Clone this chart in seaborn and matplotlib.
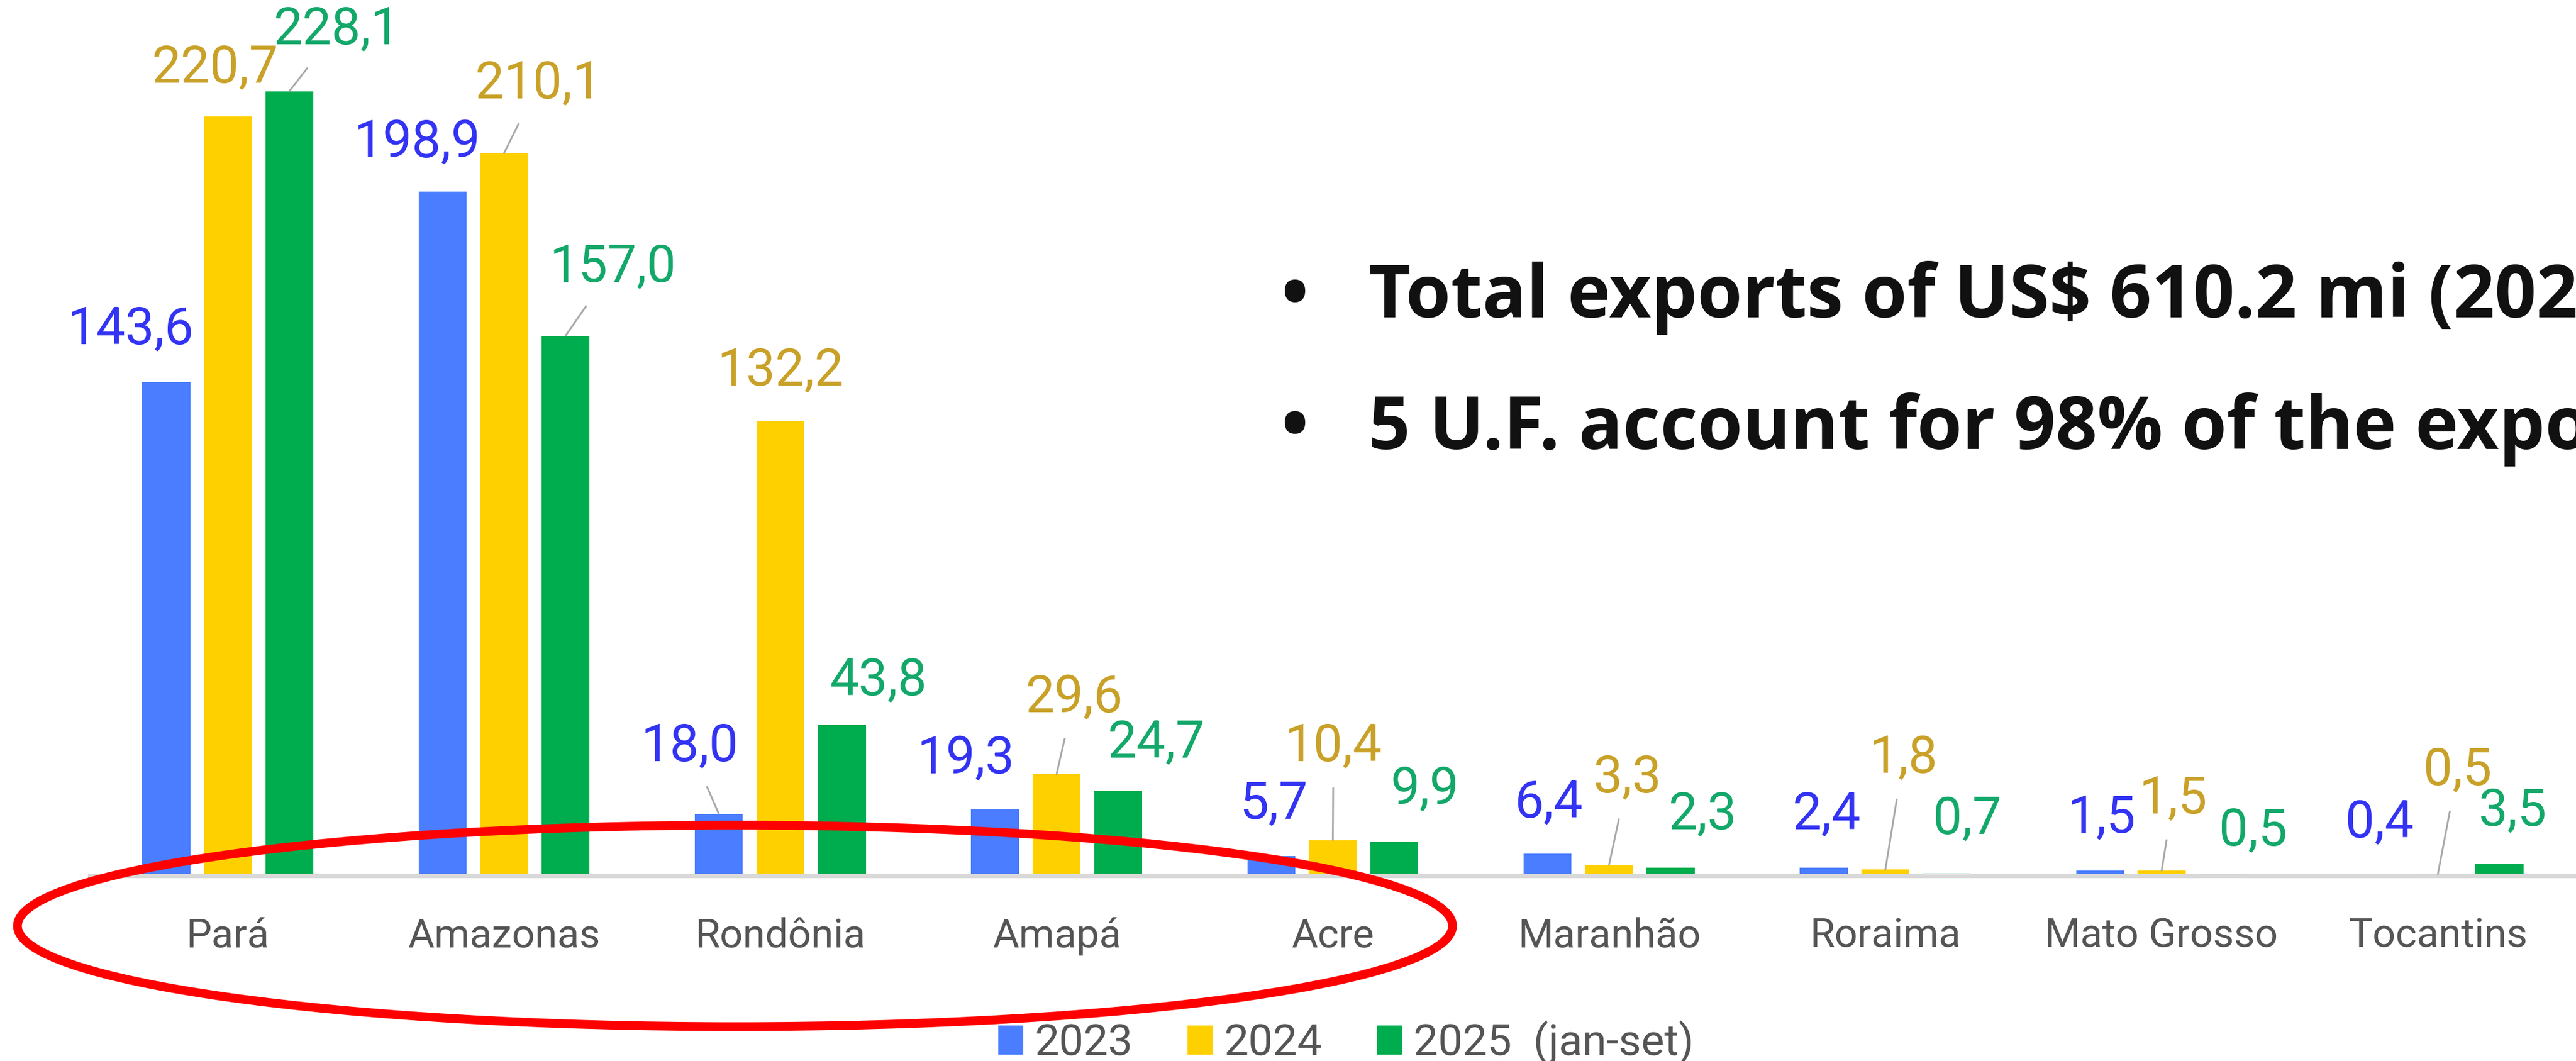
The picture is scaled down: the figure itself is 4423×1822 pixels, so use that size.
import numpy as np
import pandas as pd
import matplotlib
matplotlib.use('Agg')
import matplotlib.pyplot as plt
from matplotlib.patches import Ellipse, Patch
import seaborn as sns

# Exports by U.F. (US$ million)
states = ["Pará", "Amazonas", "Rondônia", "Amapá", "Acre",
          "Maranhão", "Roraima", "Mato Grosso", "Tocantins"]
years = ["2023", "2024", "2025  (jan-set)"]
exp_2023 = [143.6, 198.9, 18.0, 19.3, 5.7, 6.4, 2.4, 1.5, 0.4]
exp_2024 = [220.7, 210.1, 132.2, 29.6, 10.4, 3.3, 1.8, 1.5, 0.5]
exp_2025 = [228.1, 157.0, 43.8, 24.7, 9.9, 2.3, 0.7, 0.5, 3.5]

bullets = ["Total exports of US$ 610.2 mi (2024)",
           "5 U.F. account for 98% of the exports"]

bar_colors = ["#4a7dff", "#ffd000", "#00ad4e"]
label_colors = ["#3333f4", "#c9a128", "#13a86a"]

# where each value label sits relative to the top of its bar (pixels) and
# whether a leader line is drawn, as in the original chart
label_offsets = [
    [(-61, 89), (-44, 84), (-50, 115), (-50, 87), (4, 89), (2, 87), (5, 91), (2, 90), (5, 88)],
    [(-22, 83), (59, 119), (0, 86), (30, 131), (1, 160), (32, 148), (31, 191), (20, 123), (34, 178)],
    [(82, 105), (81, 117), (63, 76), (66, 82), (52, 89), (55, 91), (35, 93), (52, 74), (23, 90)],
]
leaders = [
    [False, False, True, False, False, False, False, False, False],
    [False, True, False, True, True, True, True, True, True],
    [True, True, False, False, False, False, False, False, False],
]

df = pd.DataFrame({
    "uf": states * 3,
    "ano": np.repeat(years, len(states)),
    "valor": exp_2023 + exp_2024 + exp_2025,
})

sns.set_theme(style="white")
plt.rcParams['font.family'] = ['Roboto', 'DejaVu Sans']

W, H = 4423, 1822
fig = plt.figure(figsize=(W / 100, H / 100), dpi=100)
fig.patch.set_facecolor("white")
ax = fig.add_axes([154 / W, (H - 1504) / H, 1 - 154 / W, 1504 / H])

sns.barplot(data=df, x="uf", y="valor", hue="ano", palette=bar_colors,
            width=0.668, gap=0.22, linewidth=0, saturation=1, legend=False, ax=ax)

ax.set_xlim(-0.5, 8.5)
ax.set_ylim(0, 254.6)
ax.set_xlabel("")
ax.set_ylabel("")
ax.set_yticks([])
for s in ["top", "right", "left"]:
    ax.spines[s].set_visible(False)
ax.spines["bottom"].set_color("#d9d9d9")
ax.spines["bottom"].set_linewidth(5)
ax.tick_params(axis="x", length=0, pad=51, labelsize=50, labelcolor="#555555")
ax.patch.set_alpha(0)

# value labels
for i, cont in enumerate(ax.containers):
    for j, bar in enumerate(cont):
        xc = bar.get_x() + bar.get_width() / 2
        top = bar.get_height()
        txt = f"{top:.1f}".replace(".", ",")
        dx, dy = label_offsets[i][j]
        arrow = None
        if leaders[i][j]:
            arrow = dict(arrowstyle="-", color="#a8a8a8", lw=2.2, shrinkA=18, shrinkB=0)
        ax.annotate(txt, xy=(xc, top), xytext=(dx, dy), textcoords="offset pixels",
                    ha="center", va="center", fontsize=64, color=label_colors[i],
                    arrowprops=arrow, annotation_clip=False)

# legend at the bottom
handles = [Patch(facecolor=c, edgecolor="none") for c in bar_colors]
fig.legend(handles, years, loc="center", bbox_to_anchor=(0.5225, 0.017), ncol=3,
           frameon=False, fontsize=54, handlelength=0.58, handleheight=0.66,
           handletextpad=0.26, columnspacing=1.25, labelcolor="#555555", borderpad=0)

# bullet text on the right (cut by the slide edge, as in the original slide)
for k, line in enumerate(bullets):
    yb = 1 - (545 + 226 * k) / H
    fig.text(2200 / W, yb, "•", fontsize=90, fontweight="bold", color="#111111",
             family=["Open Sans", "DejaVu Sans"], va="baseline")
    fig.text(2350 / W, yb, line, fontsize=90, fontweight="bold", color="#111111",
             family=["Open Sans", "DejaVu Sans"], va="baseline", parse_math=False)

# red ellipse around the five main U.F.
ell = Ellipse(xy=(1262 / 100, (H - 1590) / 100), width=24.64, height=3.46,
              transform=fig.dpi_scale_trans, fill=False, edgecolor="#ff0000",
              linewidth=10.8, zorder=10)
fig.add_artist(ell)

fig.savefig("out.png", dpi=100, facecolor="white")
